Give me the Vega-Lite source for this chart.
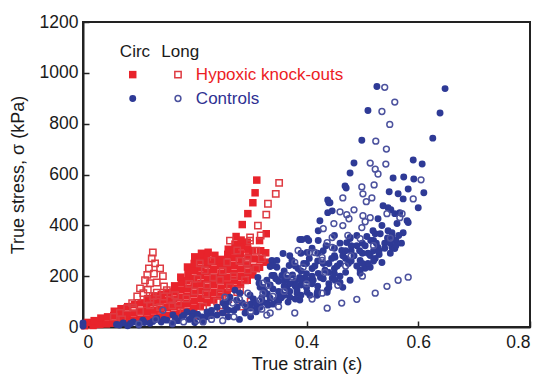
{
"$schema": "https://vega.github.io/schema/vega-lite/v6.json",
"width": 447, "height": 305,
"autosize": {"type": "none"},
"padding": {"left": 83, "top": 22, "right": 11, "bottom": 48},
"background": "white",
"config": {
  "font": "Liberation Sans",
  "view": {"stroke": "#222", "strokeWidth": 2},
  "axis": {"grid": false, "domainColor": "#222", "domainWidth": 2, "tickColor": "#222", "tickWidth": 1.5, "tickSize": -6,
    "labelFont": "Liberation Sans", "labelFontSize": 17.5, "labelColor": "#1a1a1a",
    "titleFont": "Liberation Sans", "titleFontSize": 18, "titleFontWeight": "normal", "titleColor": "#1a1a1a"}
},
"datasets": {
"labels": [
  {"t": "Circ", "x": 0.093, "y": 1083, "k": "head"},
  {"t": "Long", "x": 0.174, "y": 1083, "k": "head"},
  {"t": "Hypoxic knock-outs", "x": 0.202, "y": 993, "k": "H"},
  {"t": "Controls", "x": 0.202, "y": 899, "k": "C"}
],
"pts": [
{"g":"HC","x":0.089,"y":993},{"g":"HL","x":0.17,"y":993},{"g":"CC","x":0.089,"y":899},{"g":"CL","x":0.17,"y":899},
{"g":"HC","x":0.003,"y":5},{"g":"HC","x":0.008,"y":18},{"g":"HC","x":0.018,"y":6},{"g":"HC","x":0.02,"y":25},{"g":"HC","x":0.03,"y":10},{"g":"HC","x":0.032,"y":35},{"g":"HC","x":0.042,"y":12},{"g":"HC","x":0.044,"y":40},{"g":"HC","x":0.054,"y":15},{"g":"HC","x":0.055,"y":45},{"g":"HC","x":0.056,"y":62},{"g":"HC","x":0.066,"y":20},{"g":"HC","x":0.067,"y":46},{"g":"HC","x":0.068,"y":72},{"g":"HC","x":0.078,"y":22},{"g":"HC","x":0.079,"y":50},{"g":"HC","x":0.08,"y":80},{"g":"HC","x":0.09,"y":26},{"g":"HC","x":0.091,"y":55},{"g":"HC","x":0.092,"y":88},{"g":"HC","x":0.102,"y":30},{"g":"HC","x":0.103,"y":60},{"g":"HC","x":0.104,"y":95},{"g":"HC","x":0.114,"y":32},{"g":"HC","x":0.115,"y":62},{"g":"HC","x":0.114,"y":90},{"g":"HC","x":0.116,"y":112},{"g":"HC","x":0.126,"y":36},{"g":"HC","x":0.127,"y":66},{"g":"HC","x":0.126,"y":96},{"g":"HC","x":0.128,"y":122},{"g":"HC","x":0.138,"y":40},{"g":"HC","x":0.139,"y":70},{"g":"HC","x":0.138,"y":100},{"g":"HC","x":0.14,"y":128},{"g":"HC","x":0.15,"y":45},{"g":"HC","x":0.151,"y":76},{"g":"HC","x":0.15,"y":106},{"g":"HC","x":0.152,"y":136},{"g":"HC","x":0.162,"y":50},{"g":"HC","x":0.163,"y":80},{"g":"HC","x":0.162,"y":110},{"g":"HC","x":0.163,"y":140},{"g":"HC","x":0.164,"y":162},{"g":"HC","x":0.174,"y":55},{"g":"HC","x":0.175,"y":86},{"g":"HC","x":0.174,"y":116},{"g":"HC","x":0.175,"y":146},{"g":"HC","x":0.176,"y":176},{"g":"HC","x":0.175,"y":196},{"g":"HC","x":0.186,"y":62},{"g":"HC","x":0.187,"y":92},{"g":"HC","x":0.186,"y":122},{"g":"HC","x":0.187,"y":152},{"g":"HC","x":0.186,"y":182},{"g":"HC","x":0.188,"y":210},{"g":"HC","x":0.187,"y":236},{"g":"HC","x":0.198,"y":72},{"g":"HC","x":0.199,"y":102},{"g":"HC","x":0.198,"y":132},{"g":"HC","x":0.199,"y":162},{"g":"HC","x":0.198,"y":192},{"g":"HC","x":0.2,"y":222},{"g":"HC","x":0.199,"y":250},{"g":"HC","x":0.2,"y":276},{"g":"HC","x":0.21,"y":82},{"g":"HC","x":0.211,"y":112},{"g":"HC","x":0.21,"y":142},{"g":"HC","x":0.211,"y":172},{"g":"HC","x":0.21,"y":202},{"g":"HC","x":0.211,"y":232},{"g":"HC","x":0.21,"y":262},{"g":"HC","x":0.212,"y":290},{"g":"HC","x":0.222,"y":96},{"g":"HC","x":0.223,"y":126},{"g":"HC","x":0.222,"y":156},{"g":"HC","x":0.223,"y":186},{"g":"HC","x":0.222,"y":216},{"g":"HC","x":0.223,"y":246},{"g":"HC","x":0.222,"y":274},{"g":"HC","x":0.224,"y":294},{"g":"HC","x":0.234,"y":106},{"g":"HC","x":0.235,"y":136},{"g":"HC","x":0.234,"y":166},{"g":"HC","x":0.235,"y":196},{"g":"HC","x":0.234,"y":226},{"g":"HC","x":0.235,"y":256},{"g":"HC","x":0.236,"y":282},{"g":"HC","x":0.246,"y":122},{"g":"HC","x":0.247,"y":152},{"g":"HC","x":0.246,"y":182},{"g":"HC","x":0.247,"y":212},{"g":"HC","x":0.246,"y":242},{"g":"HC","x":0.247,"y":266},{"g":"HC","x":0.258,"y":136},{"g":"HC","x":0.259,"y":166},{"g":"HC","x":0.258,"y":196},{"g":"HC","x":0.259,"y":226},{"g":"HC","x":0.258,"y":256},{"g":"HC","x":0.259,"y":286},{"g":"HC","x":0.26,"y":306},{"g":"HC","x":0.27,"y":152},{"g":"HC","x":0.271,"y":182},{"g":"HC","x":0.27,"y":212},{"g":"HC","x":0.271,"y":242},{"g":"HC","x":0.27,"y":272},{"g":"HC","x":0.271,"y":300},{"g":"HC","x":0.272,"y":326},{"g":"HC","x":0.274,"y":356},{"g":"HC","x":0.282,"y":168},{"g":"HC","x":0.283,"y":198},{"g":"HC","x":0.282,"y":228},{"g":"HC","x":0.283,"y":258},{"g":"HC","x":0.282,"y":288},{"g":"HC","x":0.284,"y":318},{"g":"HC","x":0.283,"y":342},{"g":"HC","x":0.285,"y":403},{"g":"HC","x":0.294,"y":184},{"g":"HC","x":0.295,"y":214},{"g":"HC","x":0.294,"y":244},{"g":"HC","x":0.296,"y":276},{"g":"HC","x":0.295,"y":306},{"g":"HC","x":0.294,"y":334},{"g":"HC","x":0.295,"y":446},{"g":"HC","x":0.304,"y":205},{"g":"HC","x":0.305,"y":235},{"g":"HC","x":0.306,"y":268},{"g":"HC","x":0.304,"y":300},{"g":"HC","x":0.304,"y":489},{"g":"HC","x":0.308,"y":528},{"g":"HC","x":0.311,"y":578},{"g":"HC","x":0.316,"y":235},{"g":"HC","x":0.317,"y":265},{"g":"HC","x":0.318,"y":300},{"g":"HC","x":0.316,"y":340},{"g":"HC","x":0.328,"y":255},{"g":"HC","x":0.327,"y":292},{"g":"HC","x":0.328,"y":367},
{"g":"HL","x":0.125,"y":293},{"g":"HL","x":0.123,"y":270},{"g":"HL","x":0.129,"y":250},{"g":"HL","x":0.118,"y":231},{"g":"HL","x":0.138,"y":231},{"g":"HL","x":0.115,"y":205},{"g":"HL","x":0.127,"y":210},{"g":"HL","x":0.111,"y":184},{"g":"HL","x":0.12,"y":172},{"g":"HL","x":0.132,"y":175},{"g":"HL","x":0.143,"y":200},{"g":"HL","x":0.102,"y":152},{"g":"HL","x":0.116,"y":147},{"g":"HL","x":0.132,"y":135},{"g":"HL","x":0.145,"y":160},{"g":"HL","x":0.097,"y":120},{"g":"HL","x":0.115,"y":108},{"g":"HL","x":0.132,"y":100},{"g":"HL","x":0.108,"y":133},{"g":"HL","x":0.125,"y":122},{"g":"HL","x":0.145,"y":120},{"g":"HL","x":0.088,"y":94},{"g":"HL","x":0.15,"y":145},{"g":"HL","x":0.156,"y":106},{"g":"HL","x":0.079,"y":74},{"g":"HL","x":0.066,"y":55},{"g":"HL","x":0.102,"y":62},{"g":"HL","x":0.138,"y":78},{"g":"HL","x":0.09,"y":76},{"g":"HL","x":0.12,"y":85},{"g":"HL","x":0.055,"y":40},{"g":"HL","x":0.07,"y":30},{"g":"HL","x":0.16,"y":85},
{"g":"HL","x":0.17,"y":95},{"g":"HL","x":0.185,"y":112},{"g":"HL","x":0.2,"y":140},{"g":"HL","x":0.19,"y":170},{"g":"HL","x":0.165,"y":125},{"g":"HL","x":0.209,"y":250},{"g":"HL","x":0.218,"y":223},{"g":"HL","x":0.233,"y":195},{"g":"HL","x":0.245,"y":184},{"g":"HL","x":0.263,"y":156},{"g":"HL","x":0.281,"y":145},{"g":"HL","x":0.29,"y":184},{"g":"HL","x":0.295,"y":223},{"g":"HL","x":0.295,"y":270},{"g":"HL","x":0.263,"y":340},{"g":"HL","x":0.299,"y":340},{"g":"HL","x":0.276,"y":301},{"g":"HL","x":0.258,"y":254},{"g":"HL","x":0.293,"y":254},{"g":"HL","x":0.222,"y":164},{"g":"HL","x":0.245,"y":133},{"g":"HL","x":0.276,"y":137},{"g":"HL","x":0.31,"y":300},{"g":"HL","x":0.32,"y":270},{"g":"HL","x":0.25,"y":220},{"g":"HL","x":0.27,"y":200},{"g":"HL","x":0.23,"y":260},{"g":"HL","x":0.215,"y":80},{"g":"HL","x":0.25,"y":60},{"g":"HL","x":0.3,"y":100},{"g":"HL","x":0.285,"y":80},{"g":"HL","x":0.18,"y":60},{"g":"HL","x":0.2,"y":45},{"g":"HL","x":0.24,"y":100},{"g":"HL","x":0.26,"y":110},{"g":"HL","x":0.28,"y":260},{"g":"HL","x":0.31,"y":230},{"g":"HL","x":0.22,"y":130},{"g":"HL","x":0.205,"y":190},{"g":"HL","x":0.235,"y":60},
{"g":"HL","x":0.351,"y":567},{"g":"HL","x":0.345,"y":524},{"g":"HL","x":0.331,"y":485},{"g":"HL","x":0.328,"y":442},{"g":"HL","x":0.313,"y":399},{"g":"HL","x":0.299,"y":352},{"g":"HL","x":0.318,"y":360},
{"g":"CC","x":0.0,"y":16},{"g":"CC","x":0.0,"y":4},{"g":"CC","x":0.06,"y":10},{"g":"CC","x":0.072,"y":16},{"g":"CC","x":0.09,"y":20},{"g":"CC","x":0.107,"y":27},{"g":"CC","x":0.12,"y":15},{"g":"CC","x":0.132,"y":35},{"g":"CC","x":0.14,"y":20},{"g":"CC","x":0.15,"y":27},{"g":"CC","x":0.161,"y":47},{"g":"CC","x":0.17,"y":25},{"g":"CC","x":0.177,"y":39},{"g":"CC","x":0.186,"y":59},{"g":"CC","x":0.19,"y":30},{"g":"CC","x":0.197,"y":55},{"g":"CC","x":0.209,"y":39},{"g":"CC","x":0.222,"y":59},{"g":"CC","x":0.23,"y":45},{"g":"CC","x":0.24,"y":78},{"g":"CC","x":0.25,"y":55},{"g":"CC","x":0.251,"y":94},{"g":"CC","x":0.263,"y":117},{"g":"CC","x":0.272,"y":145},{"g":"CC","x":0.281,"y":133},{"g":"CC","x":0.299,"y":125},{"g":"CC","x":0.317,"y":156},{"g":"CC","x":0.329,"y":184},{"g":"CC","x":0.34,"y":203},{"g":"CC","x":0.347,"y":235},{"g":"CC","x":0.338,"y":262},{"g":"CC","x":0.1,"y":8},{"g":"CC","x":0.08,"y":5},{"g":"CC","x":0.16,"y":12},{"g":"CC","x":0.2,"y":18},{"g":"CC","x":0.215,"y":25},{"g":"CC","x":0.26,"y":40},{"g":"CC","x":0.27,"y":65},{"g":"CC","x":0.28,"y":30},{"g":"CC","x":0.29,"y":55},{"g":"CC","x":0.3,"y":40},{"g":"CC","x":0.31,"y":60},{"g":"CC","x":0.26,"y":100},{"g":"CC","x":0.275,"y":105},{"g":"CC","x":0.285,"y":95},{"g":"CC","x":0.3,"y":90},{"g":"CC","x":0.305,"y":110},{"g":"CC","x":0.255,"y":80},
{"g":"CC","x":0.065,"y":8},{"g":"CC","x":0.085,"y":14},{"g":"CC","x":0.11,"y":18},{"g":"CC","x":0.125,"y":22},{"g":"CC","x":0.145,"y":30},{"g":"CC","x":0.165,"y":35},{"g":"CC","x":0.18,"y":45},{"g":"CC","x":0.195,"y":40},{"g":"CC","x":0.205,"y":50},{"g":"CC","x":0.23,"y":65},
{"g":"CC","x":0.388,"y":344},{"g":"CC","x":0.401,"y":348},{"g":"CC","x":0.421,"y":340},{"g":"CC","x":0.401,"y":293},{"g":"CC","x":0.347,"y":262},{"g":"CC","x":0.335,"y":238},{"g":"CC","x":0.369,"y":242},{"g":"CC","x":0.342,"y":203},{"g":"CC","x":0.358,"y":203},{"g":"CC","x":0.388,"y":195},{"g":"CC","x":0.401,"y":184},{"g":"CC","x":0.421,"y":211},{"g":"CC","x":0.433,"y":223},{"g":"CC","x":0.313,"y":195},{"g":"CC","x":0.315,"y":172},{"g":"CC","x":0.322,"y":156},{"g":"CC","x":0.353,"y":137},{"g":"CC","x":0.365,"y":152},{"g":"CC","x":0.383,"y":145},{"g":"CC","x":0.401,"y":137},{"g":"CC","x":0.419,"y":125},{"g":"CC","x":0.437,"y":137},{"g":"CC","x":0.347,"y":106},{"g":"CC","x":0.367,"y":98},{"g":"CC","x":0.388,"y":106},{"g":"CC","x":0.329,"y":94},{"g":"CC","x":0.311,"y":78},{"g":"CC","x":0.293,"y":78},{"g":"CC","x":0.276,"y":78},{"g":"CC","x":0.26,"y":66},{"g":"CC","x":0.24,"y":47},{"g":"CC","x":0.222,"y":40},{"g":"CC","x":0.213,"y":39},
{"g":"CC","x":0.44,"y":489},{"g":"CC","x":0.438,"y":450},{"g":"CC","x":0.424,"y":418},{"g":"CC","x":0.421,"y":379},{"g":"CC","x":0.392,"y":344},{"g":"CC","x":0.404,"y":340},{"g":"CC","x":0.358,"y":289},{"g":"CC","x":0.374,"y":262},{"g":"CC","x":0.34,"y":242},{"g":"CC","x":0.356,"y":203},{"g":"CC","x":0.338,"y":203},{"g":"CC","x":0.396,"y":192},{"g":"CC","x":0.412,"y":184},{"g":"CC","x":0.446,"y":192},{"g":"CC","x":0.451,"y":274},{"g":"CC","x":0.46,"y":250},{"g":"CC","x":0.472,"y":332},{"g":"CC","x":0.478,"y":348},{"g":"CC","x":0.463,"y":301},{"g":"CC","x":0.546,"y":469},{"g":"CC","x":0.567,"y":450},{"g":"CC","x":0.58,"y":418},{"g":"CC","x":0.553,"y":371},{"g":"CC","x":0.553,"y":313},{"g":"CC","x":0.528,"y":313},{"g":"CC","x":0.523,"y":367},{"g":"CC","x":0.514,"y":281},{"g":"CC","x":0.496,"y":262},{"g":"CC","x":0.505,"y":231},{"g":"CC","x":0.496,"y":211},{"g":"CC","x":0.478,"y":184},{"g":"CC","x":0.465,"y":156},{"g":"CC","x":0.451,"y":184},{"g":"CC","x":0.437,"y":145},{"g":"CC","x":0.419,"y":133},{"g":"CC","x":0.406,"y":125},{"g":"CC","x":0.383,"y":133},{"g":"CC","x":0.37,"y":117},{"g":"CC","x":0.352,"y":125},{"g":"CC","x":0.335,"y":113},{"g":"CC","x":0.322,"y":98},{"g":"CC","x":0.331,"y":86},{"g":"CC","x":0.317,"y":78},
{"g":"CC","x":0.485,"y":645},{"g":"CC","x":0.591,"y":657},{"g":"CC","x":0.607,"y":641},{"g":"CC","x":0.478,"y":606},{"g":"CC","x":0.555,"y":586},{"g":"CC","x":0.574,"y":590},{"g":"CC","x":0.592,"y":582},{"g":"CC","x":0.469,"y":555},{"g":"CC","x":0.548,"y":532},{"g":"CC","x":0.564,"y":524},{"g":"CC","x":0.582,"y":543},{"g":"CC","x":0.61,"y":528},{"g":"CC","x":0.573,"y":504},{"g":"CC","x":0.6,"y":469},{"g":"CC","x":0.442,"y":489},{"g":"CC","x":0.446,"y":457},{"g":"CC","x":0.537,"y":477},{"g":"CC","x":0.551,"y":461},{"g":"CC","x":0.558,"y":446},{"g":"CC","x":0.528,"y":426},{"g":"CC","x":0.535,"y":399},{"g":"CC","x":0.562,"y":407},{"g":"CC","x":0.582,"y":411},{"g":"CC","x":0.519,"y":379},{"g":"CC","x":0.546,"y":379},{"g":"CC","x":0.573,"y":371},{"g":"CC","x":0.478,"y":352},{"g":"CC","x":0.508,"y":356},{"g":"CC","x":0.532,"y":367},{"g":"CC","x":0.553,"y":356},
{"g":"CC","x":0.526,"y":946},{"g":"CC","x":0.51,"y":852},{"g":"CC","x":0.499,"y":735},{"g":"CC","x":0.648,"y":938},{"g":"CC","x":0.639,"y":842},{"g":"CC","x":0.626,"y":743},{"g":"CC","x":0.471,"y":547},{"g":"CC","x":0.438,"y":500},
{"g":"CC","x":0.535,"y":254},{"g":"CC","x":0.558,"y":309},{"g":"CC","x":0.523,"y":270},{"g":"CC","x":0.514,"y":235},{"g":"CC","x":0.496,"y":223},{"g":"CC","x":0.48,"y":300},{"g":"CC","x":0.49,"y":320},{"g":"CC","x":0.5,"y":290},{"g":"CC","x":0.52,"y":300},{"g":"CC","x":0.54,"y":330},{"g":"CC","x":0.56,"y":340},{"g":"CC","x":0.47,"y":270},{"g":"CC","x":0.45,"y":230},{"g":"CC","x":0.44,"y":250},{"g":"CC","x":0.43,"y":300},{"g":"CC","x":0.42,"y":260},{"g":"CC","x":0.41,"y":230},{"g":"CC","x":0.4,"y":250},{"g":"CC","x":0.39,"y":220},{"g":"CC","x":0.38,"y":180},{"g":"CC","x":0.37,"y":170},{"g":"CC","x":0.36,"y":160},{"g":"CC","x":0.42,"y":160},{"g":"CC","x":0.44,"y":170},{"g":"CC","x":0.46,"y":200},{"g":"CC","x":0.47,"y":215},{"g":"CC","x":0.49,"y":240},{"g":"CC","x":0.51,"y":250},{"g":"CC","x":0.53,"y":285},{"g":"CC","x":0.55,"y":290},{"g":"CC","x":0.57,"y":330},{"g":"CC","x":0.48,"y":260},{"g":"CC","x":0.43,"y":190},{"g":"CC","x":0.41,"y":200},{"g":"CC","x":0.39,"y":165},{"g":"CC","x":0.35,"y":180},{"g":"CC","x":0.36,"y":220},{"g":"CC","x":0.38,"y":240},{"g":"CC","x":0.45,"y":280},{"g":"CC","x":0.5,"y":330},{"g":"CC","x":0.52,"y":340},{"g":"CC","x":0.45,"y":360},{"g":"CC","x":0.41,"y":310},{"g":"CC","x":0.39,"y":290},{"g":"CC","x":0.37,"y":280},{"g":"CC","x":0.34,"y":150},{"g":"CC","x":0.33,"y":130},{"g":"CC","x":0.35,"y":100},{"g":"CC","x":0.36,"y":125},{"g":"CC","x":0.38,"y":110},{"g":"CC","x":0.39,"y":125},{"g":"CC","x":0.4,"y":155},{"g":"CC","x":0.42,"y":140},{"g":"CC","x":0.44,"y":155},{"g":"CC","x":0.45,"y":210},{"g":"CC","x":0.46,"y":175},
{"g":"CC","x":0.3,"y":75},{"g":"CC","x":0.31,"y":95},{"g":"CC","x":0.32,"y":115},{"g":"CC","x":0.325,"y":140},{"g":"CC","x":0.335,"y":165},{"g":"CC","x":0.345,"y":190},{"g":"CC","x":0.34,"y":90},{"g":"CC","x":0.35,"y":140},{"g":"CC","x":0.355,"y":115},{"g":"CC","x":0.36,"y":180},{"g":"CC","x":0.365,"y":192},{"g":"CC","x":0.37,"y":140},{"g":"CC","x":0.375,"y":205},{"g":"CC","x":0.38,"y":160},{"g":"CC","x":0.385,"y":230},{"g":"CC","x":0.39,"y":185},{"g":"CC","x":0.395,"y":250},{"g":"CC","x":0.4,"y":210},{"g":"CC","x":0.405,"y":270},{"g":"CC","x":0.41,"y":170},{"g":"CC","x":0.415,"y":240},{"g":"CC","x":0.42,"y":290},{"g":"CC","x":0.425,"y":195},{"g":"CC","x":0.43,"y":250},{"g":"CC","x":0.435,"y":320},{"g":"CC","x":0.44,"y":215},{"g":"CC","x":0.445,"y":270},{"g":"CC","x":0.45,"y":310},{"g":"CC","x":0.455,"y":240},{"g":"CC","x":0.46,"y":330},{"g":"CC","x":0.465,"y":280},{"g":"CC","x":0.47,"y":300},{"g":"CC","x":0.475,"y":250},{"g":"CC","x":0.48,"y":320},{"g":"CC","x":0.485,"y":280},{"g":"CC","x":0.49,"y":360},{"g":"CC","x":0.495,"y":300},{"g":"CC","x":0.5,"y":250},{"g":"CC","x":0.505,"y":320},{"g":"CC","x":0.51,"y":290},{"g":"CC","x":0.515,"y":340},{"g":"CC","x":0.52,"y":260},{"g":"CC","x":0.525,"y":330},{"g":"CC","x":0.53,"y":300},{"g":"CC","x":0.54,"y":310},{"g":"CC","x":0.545,"y":350},{"g":"CC","x":0.55,"y":330},{"g":"CC","x":0.56,"y":320},{"g":"CC","x":0.565,"y":360},
{"g":"CL","x":0.329,"y":47},{"g":"CL","x":0.379,"y":55},{"g":"CL","x":0.437,"y":74},{"g":"CL","x":0.463,"y":94},{"g":"CL","x":0.49,"y":109},{"g":"CL","x":0.523,"y":133},{"g":"CL","x":0.544,"y":160},{"g":"CL","x":0.564,"y":184},{"g":"CL","x":0.582,"y":196},
{"g":"CL","x":0.54,"y":943},{"g":"CL","x":0.558,"y":885},{"g":"CL","x":0.535,"y":848},{"g":"CL","x":0.549,"y":797},{"g":"CL","x":0.524,"y":731},{"g":"CL","x":0.543,"y":700},{"g":"CL","x":0.514,"y":645},{"g":"CL","x":0.523,"y":621},{"g":"CL","x":0.528,"y":602},{"g":"CL","x":0.542,"y":641},{"g":"CL","x":0.605,"y":579},{"g":"CL","x":0.499,"y":551},{"g":"CL","x":0.521,"y":559},{"g":"CL","x":0.501,"y":524},{"g":"CL","x":0.465,"y":508},{"g":"CL","x":0.517,"y":508},{"g":"CL","x":0.507,"y":493},{"g":"CL","x":0.591,"y":504},{"g":"CL","x":0.46,"y":453},{"g":"CL","x":0.472,"y":442},{"g":"CL","x":0.485,"y":461},{"g":"CL","x":0.571,"y":446},{"g":"CL","x":0.449,"y":407},{"g":"CL","x":0.465,"y":399},{"g":"CL","x":0.476,"y":426},{"g":"CL","x":0.501,"y":438},{"g":"CL","x":0.505,"y":414},{"g":"CL","x":0.499,"y":391},{"g":"CL","x":0.446,"y":352},
{"g":"CL","x":0.437,"y":332},{"g":"CL","x":0.446,"y":313},{"g":"CL","x":0.428,"y":274},{"g":"CL","x":0.406,"y":293},{"g":"CL","x":0.474,"y":360},{"g":"CL","x":0.496,"y":348},{"g":"CL","x":0.514,"y":430},{"g":"CL","x":0.544,"y":446},{"g":"CL","x":0.567,"y":430},{"g":"CL","x":0.456,"y":164},{"g":"CL","x":0.428,"y":133},{"g":"CL","x":0.376,"y":195},{"g":"CL","x":0.365,"y":203},{"g":"CL","x":0.394,"y":235},{"g":"CL","x":0.379,"y":254},{"g":"CL","x":0.385,"y":301},{"g":"CL","x":0.43,"y":387},{"g":"CL","x":0.415,"y":293},{"g":"CL","x":0.433,"y":215},{"g":"CL","x":0.428,"y":262},{"g":"CL","x":0.331,"y":164},{"g":"CL","x":0.322,"y":133},{"g":"CL","x":0.295,"y":133},{"g":"CL","x":0.335,"y":55},{"g":"CL","x":0.317,"y":106},{"g":"CL","x":0.29,"y":86},{"g":"CL","x":0.268,"y":94},{"g":"CL","x":0.254,"y":117},{"g":"CL","x":0.215,"y":20},{"g":"CL","x":0.143,"y":66},{"g":"CL","x":0.204,"y":27},{"g":"CL","x":0.13,"y":30},{"g":"CL","x":0.16,"y":15},{"g":"CL","x":0.18,"y":20},{"g":"CL","x":0.1,"y":12},{"g":"CL","x":0.23,"y":30},{"g":"CL","x":0.25,"y":25},{"g":"CL","x":0.27,"y":40},{"g":"CL","x":0.3,"y":60},{"g":"CL","x":0.32,"y":70},{"g":"CL","x":0.35,"y":80},{"g":"CL","x":0.28,"y":110},{"g":"CL","x":0.322,"y":172},{"g":"CL","x":0.34,"y":120},{"g":"CL","x":0.36,"y":140},{"g":"CL","x":0.4,"y":170},{"g":"CL","x":0.41,"y":110},{"g":"CL","x":0.47,"y":240},{"g":"CL","x":0.5,"y":200},{"g":"CL","x":0.52,"y":320},{"g":"CL","x":0.55,"y":350},{"g":"CL","x":0.48,"y":280}
]
},
"encoding": {
  "x": {"field": "x", "type": "quantitative", "scale": {"domain": [0, 0.8], "nice": false},
        "axis": {"title": "True strain (ε)", "values": [0, 0.2, 0.4, 0.6, 0.8], "format": "~g", "labelPadding": 12, "titlePadding": 5}},
  "y": {"field": "y", "type": "quantitative", "scale": {"domain": [0, 1200], "nice": false},
        "axis": {"title": "True stress, σ (kPa)", "values": [0, 200, 400, 600, 800, 1000, 1200], "format": "d", "labelPadding": 11, "titlePadding": 12}}
},
"layer": [
  {"data": {"name": "pts"}, "transform": [{"filter": "datum.g === 'HC'"}],
   "mark": {"type": "point", "shape": "square", "filled": true, "size": 56, "color": "#e8232b", "opacity": 1}},
  {"data": {"name": "pts"}, "transform": [{"filter": "datum.g === 'HL'"}],
   "mark": {"type": "point", "shape": "square", "filled": false, "size": 40, "color": "#de3b42", "strokeWidth": 1.5, "opacity": 1}},
  {"data": {"name": "pts"}, "transform": [{"filter": "datum.g === 'CC'"}],
   "mark": {"type": "point", "shape": "circle", "filled": true, "size": 48, "color": "#2e3a96", "opacity": 1}},
  {"data": {"name": "pts"}, "transform": [{"filter": "datum.g === 'CL'"}],
   "mark": {"type": "point", "shape": "circle", "filled": false, "size": 34, "color": "#4c529e", "strokeWidth": 1.5, "opacity": 1}},
  {"data": {"name": "labels"}, "transform": [{"filter": "datum.k === 'head'"}],
   "mark": {"type": "text", "align": "center", "baseline": "middle", "fontSize": 17, "color": "#1a1a1a"},
   "encoding": {"text": {"field": "t"}}},
  {"data": {"name": "labels"}, "transform": [{"filter": "datum.k !== 'head'"}],
   "mark": {"type": "text", "align": "left", "baseline": "middle", "fontSize": 17},
   "encoding": {"text": {"field": "t"},
     "color": {"field": "k", "type": "nominal", "scale": {"domain": ["H", "C"], "range": ["#ec1c24", "#2e3192"]}, "legend": null}}}
]
}
